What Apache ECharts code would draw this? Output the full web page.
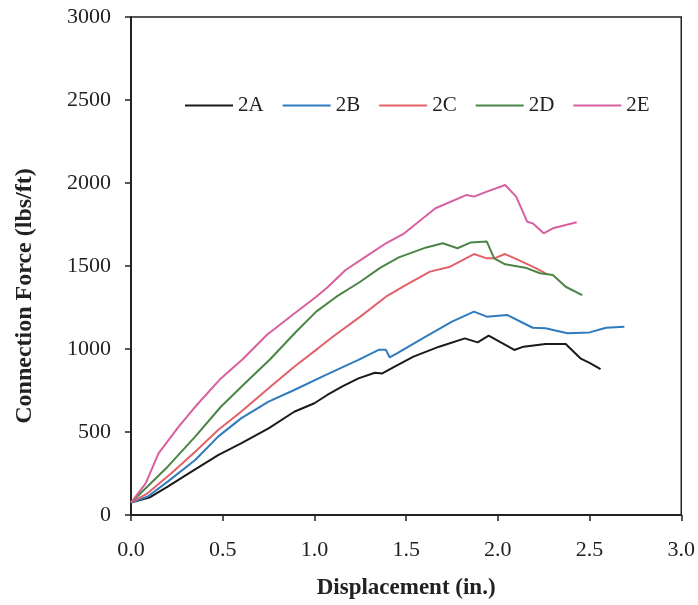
<!DOCTYPE html>
<html>
<head>
<meta charset="utf-8">
<script src="https://cdn.jsdelivr.net/npm/echarts@6/dist/echarts.min.js"></script>
<style>html,body{margin:0;padding:0;background:#fff}#c{width:698px;height:605px}</style>
</head>
<body>
<div id="c"></div>
<script>
const seriesNames = ['2A', '2B', '2C', '2D', '2E'];
const xTicks = [0, 0.5, 1.0, 1.5, 2.0, 2.5, 3.0];
const yTicks = [0, 500, 1000, 1500, 2000, 2500, 3000];

const data2A = [[0,75],[0.05,90],[0.1,105],[0.2,171],[0.33,261],[0.475,361],[0.6,432],[0.75,522],[0.89,622],[1.0,673],[1.07,723],[1.15,773],[1.24,823],[1.33,857],[1.37,853],[1.43,890],[1.54,954],[1.68,1014],[1.82,1064],[1.89,1040],[1.95,1080],[2.09,994],[2.14,1014],[2.26,1030],[2.37,1030],[2.45,944],[2.5,917],[2.56,879]];
const data2B = [[0,75],[0.09,110],[0.2,201],[0.35,331],[0.475,472],[0.6,582],[0.75,683],[0.89,753],[1.06,843],[1.24,934],[1.35,995],[1.39,995],[1.41,950],[1.45,974],[1.59,1064],[1.75,1165],[1.87,1225],[1.94,1195],[2.05,1205],[2.19,1128],[2.26,1125],[2.38,1095],[2.5,1100],[2.59,1128],[2.69,1134]];
const data2C = [[0,75],[0.09,131],[0.22,251],[0.35,381],[0.475,512],[0.6,622],[0.75,763],[0.89,893],[1.02,1004],[1.1,1074],[1.25,1195],[1.39,1315],[1.5,1386],[1.63,1466],[1.74,1496],[1.87,1572],[1.94,1546],[1.98,1546],[2.04,1572],[2.12,1532],[2.21,1486],[2.27,1450]];
const data2D = [[0,75],[0.08,161],[0.2,291],[0.35,472],[0.49,652],[0.64,813],[0.76,940],[0.9,1104],[1.01,1225],[1.12,1315],[1.25,1405],[1.36,1490],[1.46,1552],[1.61,1612],[1.7,1637],[1.78,1607],[1.85,1641],[1.94,1647],[1.98,1546],[2.04,1510],[2.15,1490],[2.23,1456],[2.3,1446],[2.37,1375],[2.46,1325]];
const data2E = [[0,75],[0.08,191],[0.15,371],[0.26,532],[0.35,652],[0.49,823],[0.61,940],[0.74,1084],[0.88,1205],[1.01,1315],[1.07,1370],[1.17,1476],[1.28,1556],[1.39,1637],[1.49,1697],[1.66,1848],[1.83,1928],[1.87,1918],[1.94,1948],[2.04,1988],[2.1,1918],[2.16,1767],[2.19,1757],[2.25,1697],[2.3,1727],[2.43,1763]];

const allData = [data2A, data2B, data2C, data2D, data2E];
const colors = ['#1a1a1a', '#2f7bbd', '#e2626a', '#4a8545', '#d9609f'];
const serif = '"Liberation Serif", "Times New Roman", serif';

const chart = echarts.init(document.getElementById('c'), null, {renderer: 'canvas'});
chart.setOption({
  animation: false,
  backgroundColor: '#ffffff',
  grid: {left: 131, right: 16, top: 17, bottom: 90, show: true, borderColor: '#222', borderWidth: 1.5, backgroundColor: 'transparent'},
  legend: {
    data: seriesNames.map(n => ({name: n, icon: 'rect'})),
    left: 180, top: 90,
    itemWidth: 48, itemHeight: 2, itemGap: 19,
    textStyle: {fontFamily: serif, fontSize: 21, color: '#222'}
  },
  xAxis: {
    type: 'value', min: xTicks[0], max: xTicks[xTicks.length - 1], interval: 0.5,
    axisLine: {lineStyle: {color: '#222', width: 2}},
    axisTick: {show: true, length: 6, lineStyle: {color: '#222', width: 1.5}},
    splitLine: {show: false},
    axisLabel: {margin: 24, fontFamily: serif, fontSize: 22, color: '#222', formatter: v => v.toFixed(1)},
    name: 'Displacement (in.)', nameLocation: 'middle', nameGap: 62,
    nameTextStyle: {fontFamily: serif, fontSize: 23, fontWeight: 'bold', color: '#222'}
  },
  yAxis: {
    type: 'value', min: yTicks[0], max: yTicks[yTicks.length - 1], interval: 500,
    axisLine: {show: true, lineStyle: {color: '#222', width: 2}},
    axisTick: {show: true, length: 6, lineStyle: {color: '#222', width: 1.5}},
    splitLine: {show: false},
    axisLabel: {margin: 20, fontFamily: serif, fontSize: 22, color: '#222', formatter: v => String(v)}
  },
  graphic: [{
    type: 'text', x: 25, y: 296, rotation: Math.PI / 2,
    style: {text: 'Connection Force (lbs/ft)', font: 'bold 24px ' + serif, fill: '#222', textAlign: 'center', textVerticalAlign: 'middle'}
  }],
  series: seriesNames.map((n, i) => ({
    name: n, type: 'line', data: allData[i], symbol: 'none', showSymbol: false,
    lineStyle: {color: colors[i], width: 2}, itemStyle: {color: colors[i]}
  }))
});
</script>
</body>
</html>
